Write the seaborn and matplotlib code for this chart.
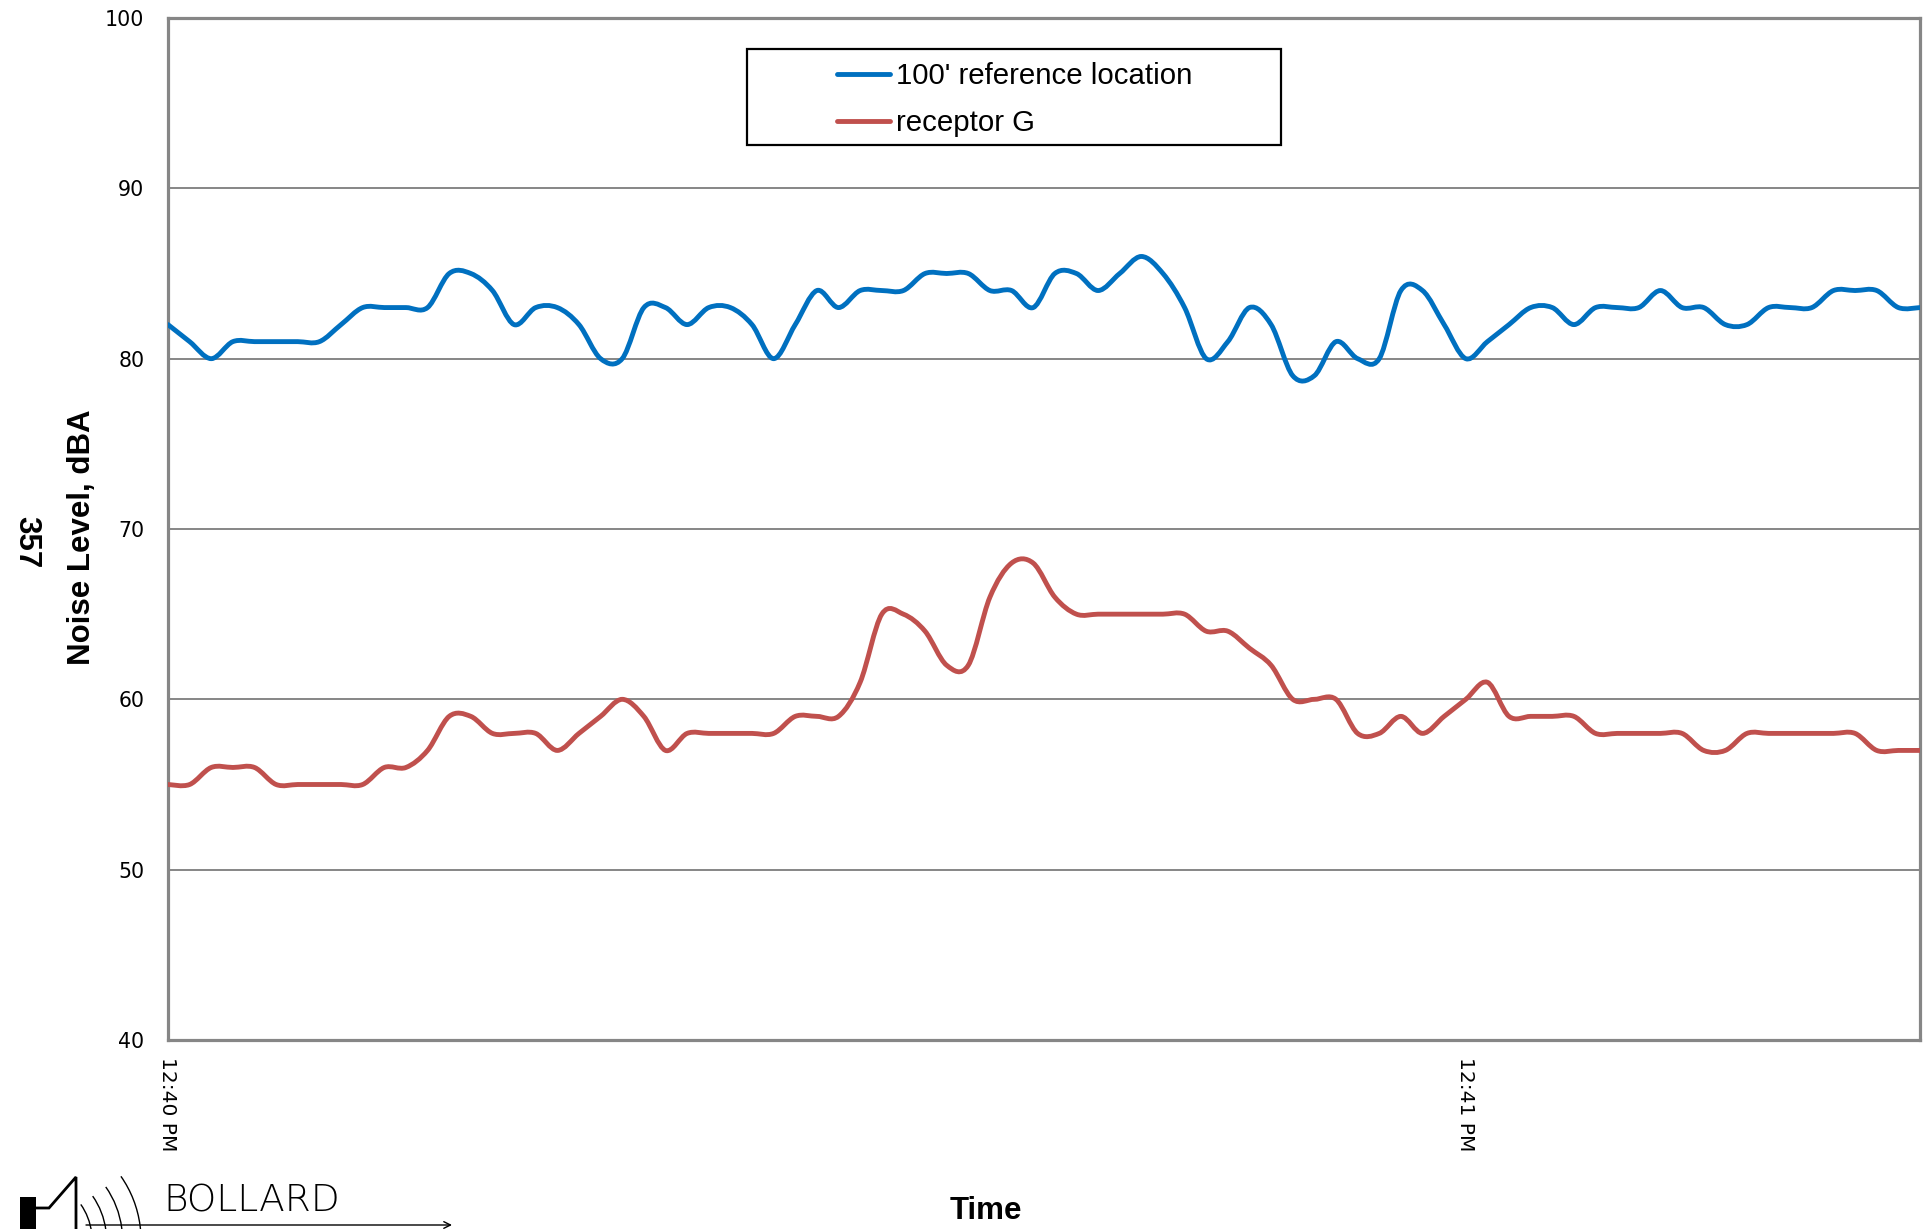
import numpy as np
import pandas as pd
import matplotlib
matplotlib.use("Agg")
import matplotlib.pyplot as plt
import matplotlib.dates as mdates
from matplotlib.path import Path
from matplotlib.patches import PathPatch, Rectangle, Arc
from matplotlib.lines import Line2D
import seaborn as sns

# ---- measured noise levels, one reading per second from 12:40:00 ----
start_time = "2014-01-01 12:40:00"
elapsed_s = list(range(82))

reference_100ft = [
    82, 81, 80, 81, 81, 81, 81, 81, 82, 83,
    83, 83, 83, 85, 85, 84, 82, 83, 83, 82,
    80, 80, 83, 83, 82, 83, 83, 82, 80, 82,
    84, 83, 84, 84, 84, 85, 85, 85, 84, 84,
    83, 85, 85, 84, 85, 86, 85, 83, 80, 81,
    83, 82, 79, 79, 81, 80, 80, 84, 84, 82,
    80, 81, 82, 83, 83, 82, 83, 83, 83, 84,
    83, 83, 82, 82, 83, 83, 83, 84, 84, 84,
    83, 83,
]

receptor_g = [
    55, 55, 56, 56, 56, 55, 55, 55, 55, 55,
    56, 56, 57, 59, 59, 58, 58, 58, 57, 58,
    59, 60, 59, 57, 58, 58, 58, 58, 58, 59,
    59, 59, 61, 65, 65, 64, 62, 62, 66, 68,
    68, 66, 65, 65, 65, 65, 65, 65, 64, 64,
    63, 62, 60, 60, 60, 58, 58, 59, 58, 59,
    60, 61, 59, 59, 59, 59, 58, 58, 58, 58,
    58, 57, 57, 58, 58, 58, 58, 58, 58, 57,
    57, 57,
]

series_names = ["100' reference location", "receptor G"]
series_colors = ["#0070C0", "#C0504D"]
y_ticks = [40, 50, 60, 70, 80, 90, 100]

times = pd.Timestamp(start_time) + pd.to_timedelta(elapsed_s, unit="s")
df = pd.concat([
    pd.DataFrame({"time": times, "dBA": reference_100ft, "series": series_names[0]}),
    pd.DataFrame({"time": times, "dBA": receptor_g, "series": series_names[1]}),
], ignore_index=True)

# ---- style ----
sns.set_style("white")
plt.rcParams["font.family"] = ["DejaVu Sans"]
plt.rcParams["text.color"] = "black"
plt.rcParams["axes.labelcolor"] = "black"
plt.rcParams["xtick.color"] = "black"
plt.rcParams["ytick.color"] = "black"

W, H = 1927, 1229
fig = plt.figure(figsize=(W / 100, H / 100), dpi=100)
fig.patch.set_facecolor("white")

x0, x1, y0, y1 = 168, 1920, 18, 1040
ax = fig.add_axes([x0 / W, 1 - y1 / H, (x1 - x0) / W, (y1 - y0) / H])

line_w = 3.5
sns.lineplot(data=df, x="time", y="dBA", hue="series", hue_order=series_names,
             palette=dict(zip(series_names, series_colors)), errorbar=None,
             linewidth=line_w, legend=False, ax=ax)


def smooth_path(xy):
    """Cubic Bezier through every point (spreadsheet-style smoothed line)."""
    n = len(xy)
    verts = [xy[0]]
    codes = [Path.MOVETO]
    for i in range(n - 1):
        p_prev = xy[max(i - 1, 0)]
        p_next2 = xy[min(i + 2, n - 1)]
        c1 = xy[i] + (xy[i + 1] - p_prev) / 6.0
        c2 = xy[i + 1] - (p_next2 - xy[i]) / 6.0
        verts += [c1, c2, xy[i + 1]]
        codes += [Path.CURVE4] * 3
    return Path(np.array(verts), codes)


for ln in list(ax.lines):
    xy = np.asarray(ln.get_xydata(), dtype=float)
    patch = PathPatch(smooth_path(xy), facecolor="none", edgecolor=ln.get_color(),
                      linewidth=ln.get_linewidth(), capstyle="round",
                      joinstyle="round", zorder=3)
    ax.add_patch(patch)
    ln.set_visible(False)

# ---- axes ----
ax.set_ylim(40, 100)
ax.set_yticks(y_ticks)
ax.set_xlim(times[0], times[-1])
ax.xaxis.set_major_locator(mdates.MinuteLocator())
ax.xaxis.set_major_formatter(mdates.DateFormatter("%I:%M %p"))

grid_gray = "#868686"
ax.grid(axis="y", color=grid_gray, linewidth=1.4)
ax.grid(axis="x", visible=False)
ax.set_axisbelow(True)
for sp in ax.spines.values():
    sp.set_visible(True)
    sp.set_color(grid_gray)
    sp.set_linewidth(2.3)

ax.tick_params(axis="y", length=0, pad=17, labelsize=14.8, labelcolor="black")
ax.tick_params(axis="x", length=0, pad=12, labelsize=14.5, labelcolor="black",
               labelrotation=270)

bold_font = dict(family=["Liberation Sans", "DejaVu Sans"], weight="bold",
                 size=22.5, color="black")
ax.set_ylabel("Noise Level, dBA", va="center", **bold_font)
ax.yaxis.set_label_coords((82 - x0) / (x1 - x0), (y1 - 537) / (y1 - y0))
ax.set_xlabel("Time", va="center", **bold_font)
ax.xaxis.set_label_coords((986 - x0) / (x1 - x0), -(1211 - y1) / (y1 - y0))

fig.text(26 / W, 1 - 542 / H, "357", rotation=270, ha="center", va="center",
         **bold_font)

# ---- legend ----
handles = [Line2D([], [], color=c, linewidth=line_w) for c in series_colors]
ax.legend(handles, series_names, loc="upper left",
          bbox_to_anchor=(837 / W, 1 - 62 / H), bbox_transform=fig.transFigure,
          frameon=False, borderpad=0, borderaxespad=0, handlelength=1.8,
          handletextpad=0.2, labelspacing=0.66,
          prop=dict(family=["Liberation Sans", "DejaVu Sans"], size=21.2))

# ---- overlay in pixel units: legend frame and company logo ----
deco = fig.add_axes([0, 0, 1, 1], zorder=5)
deco.set_xlim(0, W)
deco.set_ylim(H, 0)
deco.axis("off")
deco.patch.set_alpha(0)

deco.add_patch(Rectangle((747, 49), 534, 96, fill=False, edgecolor="black",
                         linewidth=1.6))

deco.add_patch(Rectangle((20, 1197), 16, 45, facecolor="black", edgecolor="none"))
deco.plot([36, 49, 76, 76], [1208, 1208, 1177, 1240], color="black",
          linewidth=2, solid_joinstyle="miter")
for r in [62, 76.5, 92.5, 111]:
    deco.add_patch(Arc((30, 1240), 2 * r, 2 * r, theta1=-35, theta2=20,
                       color="black", linewidth=1.0))
deco.text(163, 1211, "BOLLARD", ha="left", va="baseline", color="black",
          family=["DejaVu Sans"], weight="light", size=27)
deco.annotate("", xy=(452, 1225), xytext=(86, 1225),
              arrowprops=dict(arrowstyle="->", color="black", lw=1.0,
                              mutation_scale=12, shrinkA=0, shrinkB=0))

fig.savefig("out.png", dpi=100, facecolor="white")
